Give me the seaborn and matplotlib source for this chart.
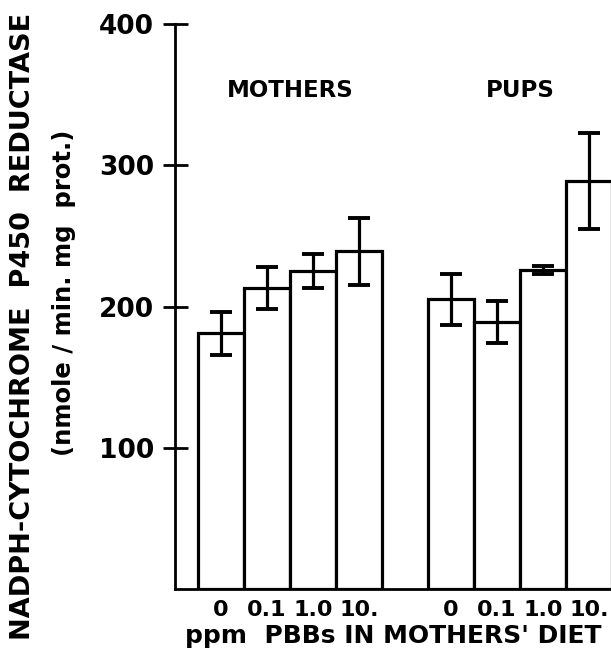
import pandas as pd
import matplotlib
matplotlib.use("Agg")
import matplotlib.pyplot as plt
import seaborn as sns

# values (nmole / min. mg prot.)
doses = ["0", "0.1", "1.0", "10."]
mothers_mean = [181, 213, 225, 239]
mothers_err = [15, 15, 12, 24]
pups_mean = [205, 189, 226, 289]
pups_err = [18, 15, 3, 34]
yticks = [100, 200, 300, 400]

df = pd.DataFrame({
    "key": ["M" + d for d in doses] + ["P" + d for d in doses],
    "group": ["MOTHERS"] * 4 + ["PUPS"] * 4,
    "value": mothers_mean + pups_mean,
    "err": mothers_err + pups_err,
})
# empty slot between the two groups
order = ["M" + d for d in doses] + ["gap"] + ["P" + d for d in doses]

sns.set_style("white")
plt.rcParams["font.family"] = ["DejaVu Sans"]
plt.rcParams["font.weight"] = "bold"
plt.rcParams["text.color"] = "black"
plt.rcParams["axes.labelcolor"] = "black"
plt.rcParams["xtick.color"] = "black"
plt.rcParams["ytick.color"] = "black"

fig = plt.figure(figsize=(6.11, 6.59), dpi=100)
ax = fig.add_axes([0.2864, 0.1062, 0.7152, 0.8574])

sns.barplot(data=df, x="key", y="value", order=order, width=1.0,
            color="white", edgecolor="black", linewidth=2.3,
            errorbar=None, ax=ax)

pos = [order.index(k) for k in df["key"]]
ax.errorbar(pos, df["value"], yerr=df["err"], fmt="none", ecolor="black",
            elinewidth=2.3, capsize=8, capthick=2.8)

ax.set_xlim(-1, 8.5)
ax.set_ylim(0, 400)
ax.set_yticks(yticks)
ax.set_yticklabels([str(t) for t in yticks], fontsize=19, fontweight="bold")
ax.tick_params(axis="y", left=True, direction="inout", length=18, width=2,
               pad=6)

ax.set_xticks(range(len(order)))
ax.set_xticklabels(doses + [""] + doses, fontsize=16, fontweight="bold")
ax.tick_params(axis="x", bottom=True, length=0, pad=8)
ax.set_xlabel("ppm  PBBs IN MOTHERS' DIET", fontsize=18, fontweight="bold",
              labelpad=3)
ax.set_ylabel("")

for side in ["top", "right"]:
    ax.spines[side].set_visible(False)
for side in ["left", "bottom"]:
    ax.spines[side].set_linewidth(2)
    ax.spines[side].set_color("black")

# group titles
ax.text(1.5, 353, "MOTHERS", ha="center", va="center", fontsize=16.5,
        fontweight="bold")
ax.text(6.5, 353, "PUPS", ha="center", va="center", fontsize=16.5,
        fontweight="bold")

fig.text(23 / 611, 1 - 326 / 659, "NADPH-CYTOCHROME  P450  REDUCTASE",
         rotation=90, ha="center", va="center", fontsize=19.5, fontweight="bold")
fig.text(64 / 611, 1 - 293 / 659, "(nmole / min. mg  prot.)",
         rotation=90, ha="center", va="center", fontsize=17.5, fontweight="bold")

fig.savefig("out.png", dpi=100)
